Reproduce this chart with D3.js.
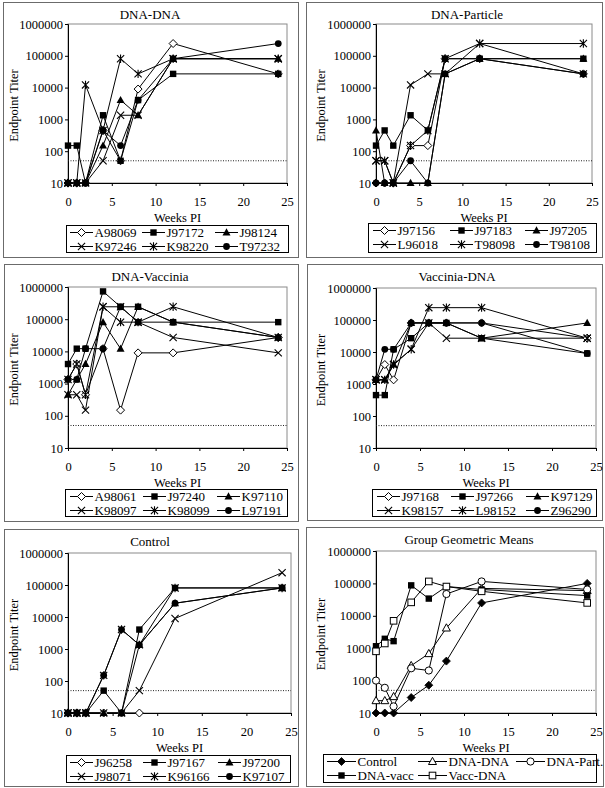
<!DOCTYPE html>
<html><head><meta charset="utf-8">
<script src="https://cdn.jsdelivr.net/npm/d3@7"></script>
<style>
body{margin:0;background:#fff}
svg{display:block}
svg text{font-family:'Liberation Serif','Times New Roman',Times,'DejaVu Serif',serif !important;fill:#000}
</style>
</head><body>
<svg id="c" width="605" height="788" font-family="Liberation Serif"></svg>
<script>
// ---------- data ----------
const weeks = [0, 1, 2, 4, 6, 8, 12, 24];
const xTickValues = [0, 5, 10, 15, 20, 25];
const yTickValues = [10, 100, 1000, 10000, 100000, 1000000];
const cutoffTiter = 50;
const xAxisTitle = "Weeks PI";
const yAxisTitle = "Endpoint Titer";
const panelTitles = ["DNA-DNA", "DNA-Particle", "DNA-Vaccinia", "Vaccinia-DNA", "Control", "Group Geometric Means"];

const dnaDnaAnimals = ["A98069", "J97172", "J98124", "K97246", "K98220", "T97232"];
const dnaDnaTiters = [
  [10, 10, 10, 450, 50, 9000, 243000, 27000],
  [150, 150, 10, 1350, 50, 4050, 27000, 27000],
  [10, 10, 10, 150, 4050, 1350, 81000, 81000],
  [10, 10, 10, 50, 1350, 1350, 81000, 81000],
  [10, 10, 12150, 450, 81000, 27000, 81000, 81000],
  [10, 10, 10, 450, 150, 4050, 81000, 243000]
];

const dnaParticleAnimals = ["J97156", "J97183", "J97205", "L96018", "T98098", "T98108"];
const dnaParticleTiters = [
  [10, 10, 10, 150, 150, 81000, 81000, 27000],
  [150, 450, 150, 1350, 450, 81000, 81000, 81000],
  [450, 10, 10, 10, 10, 27000, 81000, 81000],
  [50, 50, 10, 12150, 27000, 27000, 243000, 27000],
  [50, 50, 10, 150, 450, 81000, 243000, 243000],
  [10, 10, 10, 50, 10, 27000, 81000, 27000]
];

const dnaVacciniaAnimals = ["A98061", "J97240", "K97110", "K98097", "K98099", "L97191"];
const dnaVacciniaTiters = [
  [1350, 4050, 450, 12150, 150, 9000, 9000, 27000],
  [4050, 12150, 12150, 729000, 243000, 243000, 81000, 81000],
  [450, 1350, 4050, 81000, 12150, 243000, 81000, 27000],
  [450, 450, 150, 243000, 243000, 81000, 27000, 9000],
  [1350, 4050, 450, 243000, 81000, 81000, 243000, 27000],
  [1350, 1350, 12150, 12150, 243000, 81000, 81000, 27000]
];

const vacciniaDnaAnimals = ["J97168", "J97266", "K97129", "K98157", "L98152", "Z96290"];
const vacciniaDnaTiters = [
  [1350, 4050, 1350, 81000, 81000, 81000, 81000, 27000],
  [450, 450, 12150, 27000, 81000, 81000, 27000, 9000],
  [1350, 1350, 4050, 81000, 81000, 81000, 27000, 81000],
  [1350, 1350, 4050, 12150, 81000, 27000, 27000, 27000],
  [1350, 1350, 4050, 12150, 243000, 243000, 243000, 27000],
  [1350, 12150, 12150, 81000, 81000, 81000, 81000, 9000]
];

const controlAnimals = ["J96258", "J97167", "J97200", "J98071", "K96166", "K97107"];
const controlTiters = [
  [10, 10, 10, 10, 10, 10, null, null],
  [10, 10, 10, 50, 10, 4050, 81000, 81000],
  [10, 10, 10, 10, 10, 1350, 27000, 81000],
  [10, 10, 10, 10, 10, 50, 9000, 243000],
  [10, 10, 10, 150, 4050, 1350, 81000, 81000],
  [10, 10, 10, 150, 4050, 1350, 27000, 81000]
];

const groupNames = ["Control", "DNA-DNA", "DNA-Part.", "DNA-vacc", "Vacc-DNA"];
const groupMeans = [
  [10, 10, 10, 30, 72, 400, 25000, 100000],
  [24, 24, 32, 290, 680, 4200, 70000, 60000],
  [100, 60, 16, 240, 205, 47000, 115000, 65000],
  [1150, 1950, 1650, 87000, 34000, 80000, 65000, 42000],
  [800, 1400, 7000, 26000, 115000, 80000, 57000, 25000]
];

const animalMarkers = ["diamondOpen", "squareFilled", "triangleFilled", "cross", "asterisk", "circleFilled"];
const groupMarkers = ["diamondFilled", "triangleOpen", "circleOpen", "squareFilled", "squareOpen"];

// ---------- layout ----------
const panels = [
  {names: dnaDnaAnimals, values: dnaDnaTiters, markers: animalMarkers, title: panelTitles[0],
   box: [3, 2, 298, 257], plot: [68, 24, 287, 183], titleX: 150, ylabX: 17.5,
   legend: [66, 225, 288, 252], cols: [4, 76, 149], lineLen: 23},
  {names: dnaParticleAnimals, values: dnaParticleTiters, markers: animalMarkers, title: panelTitles[1],
   box: [306, 2, 602, 257], plot: [376, 24, 592, 183], titleX: 467, ylabX: 324.5,
   legend: [368, 223, 596, 252], cols: [5, 82, 157], lineLen: 23},
  {names: dnaVacciniaAnimals, values: dnaVacciniaTiters, markers: animalMarkers, title: panelTitles[2],
   box: [4, 264, 298, 521], plot: [68, 287, 287, 448], titleX: 150, ylabX: 17.5,
   legend: [65, 489, 287, 516], cols: [5, 78, 152], lineLen: 23},
  {names: vacciniaDnaAnimals, values: vacciniaDnaTiters, markers: animalMarkers, title: panelTitles[3],
   box: [307, 264, 602, 520], plot: [376, 288, 596, 448], titleX: 457, ylabX: 324.5,
   legend: [372, 489, 596, 516], cols: [5, 79, 154], lineLen: 23},
  {names: controlAnimals, values: controlTiters, markers: animalMarkers, title: panelTitles[4],
   box: [4, 529, 298, 786], plot: [68, 553, 291, 713], titleX: 150, ylabX: 17.5,
   legend: [66, 755, 290, 782], cols: [4, 77, 152], lineLen: 23},
  {names: groupNames, values: groupMeans, markers: groupMarkers, title: panelTitles[5],
   box: [306, 527, 603, 786], plot: [376, 551, 596, 713], titleX: 469, ylabX: 324.5,
   legend: [323, 754, 596, 782], cols: [4, 95, 193], lineLen: 29}
];

const FONT = "Liberation Serif";
const svg = d3.select("#c");
svg.append("rect").attr("width", 605).attr("height", 788).attr("fill", "#fff");

function drawMarker(g, type, x, y) {
  const m = g.append("g").attr("transform", `translate(${x},${y})`);
  const s = "#000";
  switch (type) {
    case "diamondOpen":
      m.append("path").attr("d", "M0,-4L4,0L0,4L-4,0Z").attr("fill", "#fff").attr("stroke", s).attr("stroke-width", 1); break;
    case "diamondFilled":
      m.append("path").attr("d", "M0,-4L4,0L0,4L-4,0Z").attr("fill", s).attr("stroke", s).attr("stroke-width", 0.8); break;
    case "squareFilled":
      m.append("rect").attr("x", -3.2).attr("y", -3.2).attr("width", 6.4).attr("height", 6.4).attr("fill", s); break;
    case "squareOpen":
      m.append("rect").attr("x", -3.3).attr("y", -3.3).attr("width", 6.6).attr("height", 6.6).attr("fill", "#fff").attr("stroke", s).attr("stroke-width", 1); break;
    case "triangleFilled":
      m.append("path").attr("d", "M0,-4.2L4,3L-4,3Z").attr("fill", s); break;
    case "triangleOpen":
      m.append("path").attr("d", "M0,-4.2L4,3L-4,3Z").attr("fill", "#fff").attr("stroke", s).attr("stroke-width", 1); break;
    case "circleFilled":
      m.append("circle").attr("r", 3.4).attr("fill", s); break;
    case "circleOpen":
      m.append("circle").attr("r", 3.6).attr("fill", "#fff").attr("stroke", s).attr("stroke-width", 1); break;
    case "cross":
      m.append("path").attr("d", "M-3.6,-3.6L3.6,3.6M-3.6,3.6L3.6,-3.6").attr("stroke", s).attr("stroke-width", 1.1).attr("fill", "none"); break;
    case "asterisk":
      m.append("path").attr("d", "M-3.6,-3.6L3.6,3.6M-3.6,3.6L3.6,-3.6M0,-4.2L0,4.2").attr("stroke", s).attr("stroke-width", 1.1).attr("fill", "none"); break;
  }
}

panels.forEach(p => {
  const [bx0, by0, bx1, by1] = p.box;
  const [px0, py0, px1, py1] = p.plot;
  svg.append("rect").attr("x", bx0 + 0.5).attr("y", by0 + 0.5).attr("width", bx1 - bx0).attr("height", by1 - by0)
    .attr("fill", "none").attr("stroke", "#6b6b6b").attr("stroke-width", 1);

  const x = d3.scaleLinear().domain([0, 25]).range([px0, px1]);
  const y = d3.scaleLog().domain([10, 1000000]).range([py1, py0]);

  svg.append("rect").attr("x", px0).attr("y", py0).attr("width", px1 - px0).attr("height", py1 - py0)
    .attr("fill", "none").attr("stroke", "#8a8a8a").attr("stroke-width", 1);

  const yAxis = svg.append("g").attr("transform", `translate(${px0},0)`)
    .call(d3.axisLeft(y).tickValues(yTickValues).tickFormat(d3.format("d")).tickSize(3).tickPadding(2));
  const xAxis = svg.append("g").attr("transform", `translate(0,${py1})`)
    .call(d3.axisBottom(x).tickValues(xTickValues).tickSize(3).tickPadding(11));
  [yAxis, xAxis].forEach(a => {
    a.attr("font-family", FONT);
    a.select(".domain").attr("stroke", "#000");
    a.selectAll(".tick line").attr("stroke", "#000");
    a.selectAll("text").attr("font-family", FONT).attr("font-size", 12.5).attr("fill", "#000");
  });

  svg.append("line").attr("x1", px0).attr("x2", px1).attr("y1", y(cutoffTiter)).attr("y2", y(cutoffTiter))
    .attr("stroke", "#222").attr("stroke-width", 1).attr("stroke-dasharray", "1,1.5");

  svg.append("text").attr("x", p.titleX).attr("y", by0 + 16.5).attr("text-anchor", "middle")
    .attr("font-family", FONT).attr("font-size", 13).text(p.title);
  svg.append("text").attr("x", (px0 + px1) / 2).attr("y", py1 + 38.5).attr("text-anchor", "middle")
    .attr("font-family", FONT).attr("font-size", 12.5).text(xAxisTitle);
  svg.append("text").attr("transform", `translate(${p.ylabX},${(py0 + py1) / 2 + 2}) rotate(-90)`)
    .attr("text-anchor", "middle").attr("font-family", FONT).attr("font-size", 12.5).text(yAxisTitle);

  const line = d3.line().defined(d => d[1] != null).x(d => x(d[0])).y(d => y(d[1]));
  p.values.forEach(vals => {
    const pts = weeks.map((w, j) => [w, vals[j]]);
    svg.append("path").attr("d", line(pts)).attr("fill", "none").attr("stroke", "#000").attr("stroke-width", 1);
  });
  p.values.forEach((vals, i) => {
    const g = svg.append("g");
    weeks.forEach((w, j) => { if (vals[j] != null) drawMarker(g, p.markers[i], x(w), y(vals[j])); });
  });

  const [lx0, ly0, lx1, ly1] = p.legend;
  svg.append("rect").attr("x", lx0 + 0.5).attr("y", ly0 + 0.5).attr("width", lx1 - lx0).attr("height", ly1 - ly0)
    .attr("fill", "#fff").attr("stroke", "#000").attr("stroke-width", 1);
  p.names.forEach((name, i) => {
    const col = i % 3, row = Math.floor(i / 3);
    const cx = lx0 + p.cols[col];
    const cy = ly0 + 7.5 + row * 14;
    svg.append("line").attr("x1", cx).attr("x2", cx + p.lineLen).attr("y1", cy).attr("y2", cy)
      .attr("stroke", "#000").attr("stroke-width", 1);
    drawMarker(svg.append("g"), p.markers[i], cx + p.lineLen / 2, cy);
    svg.append("text").attr("x", cx + p.lineLen + 1.5).attr("y", cy + 4.5)
      .attr("font-family", FONT).attr("font-size", 13).text(name);
  });
});
</script>
</body></html>
